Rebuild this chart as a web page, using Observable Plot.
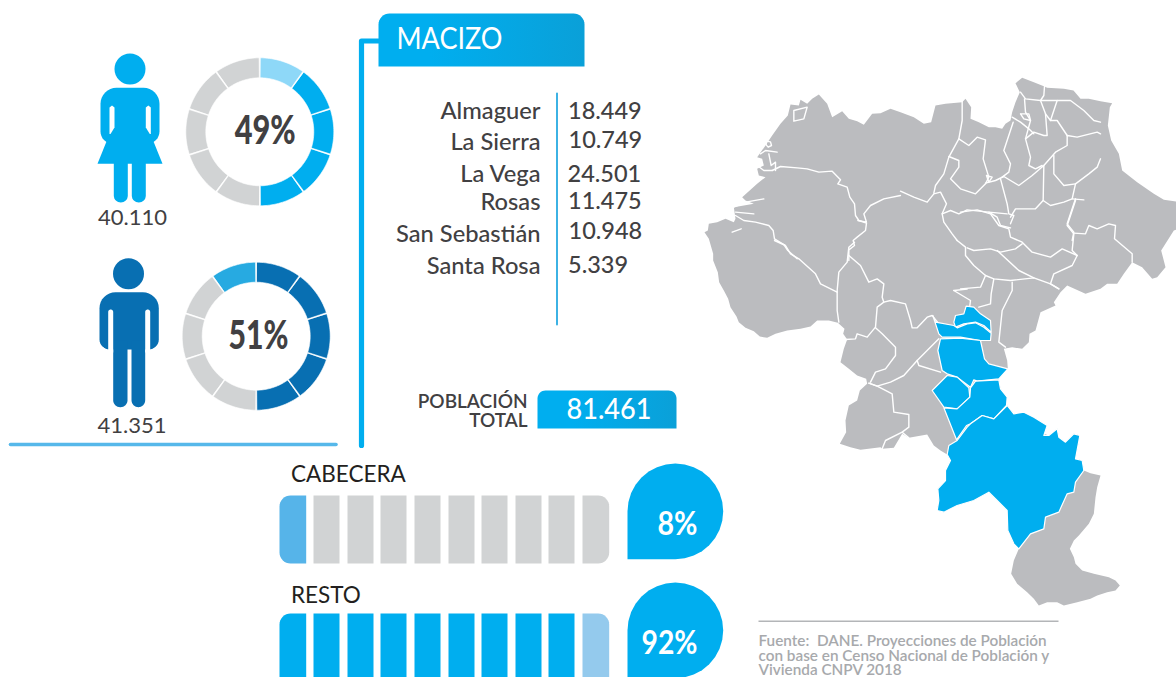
<!DOCTYPE html>
<html><head><meta charset="utf-8">
<script src="https://cdn.jsdelivr.net/npm/d3@7"></script>
<script src="https://cdn.jsdelivr.net/npm/@observablehq/plot@0.6"></script>
<style>html,body{margin:0;padding:0;background:#fff;overflow:hidden}svg{display:block}</style>
</head><body><div id="chart"></div>
<script>
// ---------- DATA ----------
const region = "MACIZO";
const municipalities = ["Almaguer","La Sierra","La Vega","Rosas","San Sebastián","Santa Rosa"];
const population = ["18.449","10.749","24.501","11.475","10.948","5.339"];
const totalPopulation = "81.461";
const womenCount = "40.110", menCount = "41.351";
const womenPct = "49%", menPct = "51%";
const womenSegments = [1,2,2,2,2,0,0,0,0,0];
const menSegments   = [2,2,2,2,2,0,0,0,0,1];
const cabeceraPct = "8%", restoPct = "92%";
const cabeceraCells = [1,0,0,0,0,0,0,0,0,0];
const restoCells    = [2,2,2,2,2,2,2,2,2,1];
const sourceLines = ["Fuente:  DANE. Proyecciones de Población","con base en Censo Nacional de Población y","Vivienda CNPV 2018"];

// map, in several tracing grids
const outlineR = [[38,60],[52,95],[56,125],[70,150],[83,175],[90,200],[108,228],[115,245],[135,262],[160,272],[178,288],[200,292],[225,280],[260,270],[300,265],[330,258],[350,240],[385,240],[412,247],[432,265],[428,280],[440,297],[430,325],[420,365],[445,385],[470,405],[497,415],[500,430],[478,450],[470,480],[445,495],[435,540],[437,575],[418,610],[450,620],[480,628],[540,620],[545,625],[580,622],[605,580],[625,592],[680,582],[700,615]];
const outlineB = [[420,480],[440,492],[450,510],[435,540],[435,570],[412,595],[415,630],[410,660],[430,665],[470,645],[520,630],[565,605],[590,630],[620,660],[620,690],[622,720],[640,760],[655,775],[640,810],[632,850],[650,880],[680,905],[700,925],[715,945],[740,935],[770,935],[790,945],[830,935],[870,925],[890,915],[920,905],[945,900],[958,885],[945,870],[925,860],[880,850],[845,840],[825,820],[820,800],[808,775],[820,750],[835,735],[865,700],[880,670],[885,620],[890,590],[900,555],[870,548],[850,540],[845,510],[825,505],[838,435],[820,430],[795,455],[775,440],[770,415],[745,435],[730,430],[740,405],[700,380],[670,365],[640,370],[620,345],[618,320],[600,295],[595,265],[622,235]];
const outlineS = [[140,570],[130,535],[155,530],[185,535],[205,515],[207,490],[225,480],[240,425],[285,405],[280,395],[300,365],[320,345],[375,370],[420,355],[440,340],[470,340],[490,310],[515,275],[545,290],[575,325],[590,320],[615,290],[602,240],[640,180],[660,172],[660,95],[610,88],[580,70],[530,35],[485,0]];
const outlineZ = [[1255,280],[1232,240],[1222,195],[1228,140],[1235,128],[1200,122],[1165,115],[1140,115]];
const outlineQ = [[519,60],[490,55],[440,52],[432,48],[400,35],[365,22],[345,38],[358,65],[345,95],[335,125],[330,150],[315,160],[305,175],[285,170],[265,170],[235,155],[210,145],[212,110],[195,85],[185,95],[135,100],[105,105],[92,155],[70,160],[40,140],[0,125]];
const outlineP = [[570,55],[540,68],[515,70],[490,103],[470,92],[445,85],[425,62],[395,80],[380,40],[355,12],[335,25],[320,40],[300,28],[295,45],[270,42],[262,75],[240,100],[215,135],[195,165],[170,200],[185,205],[190,225],[170,235],[175,255],[195,260],[170,280],[125,320],[135,330],[160,340],[130,345],[100,350],[105,385],[100,395],[75,385],[50,395],[25,400],[22,420],[12,425],[25,445],[38,490],[38,510]];

const bordersP = [
 [[215,240],[240,228],[290,232],[320,235],[355,245],[395,242],[420,268],[412,280],[440,290],[448,320],[462,340],[465,375],[475,390],[498,398],[495,420],[470,440],[458,450],[462,465],[445,478],[445,510]],
 [[105,375],[130,390],[165,395],[205,405],[218,420],[222,445],[250,462],[262,480],[290,505]],
 [[472,390],[498,395],[490,370],[510,345],[550,325],[600,315]],
 [[280,60],[320,50],[310,85],[280,92],[280,60]],
 [[197,152],[210,154],[213,165],[203,170],[197,163],[197,152]],
 [[180,190],[195,180],[230,185]],
 [[205,190],[212,225],[225,215],[225,240]],
 [[170,225],[190,240],[215,240]],
 [[100,350],[135,335],[190,325]],
 [[105,365],[160,370]],
 [[95,425],[122,415]]
];
const bordersQ = [
 [[0,362],[40,380],[80,395],[100,370],[120,365],[138,400],[125,430],[130,455],[155,490],[170,510]],
 [[100,368],[105,345],[130,310],[145,260],[175,205],[185,150],[185,90]],
 [[175,205],[205,225],[230,200],[255,208],[248,265],[265,320],[255,340],[225,370],[180,355],[150,325],[175,290],[175,270],[145,258]],
 [[255,338],[285,330],[310,318],[355,345],[395,315],[430,285],[465,245],[500,225],[500,195],[530,200],[590,185],[600,190]],
 [[500,195],[470,150],[450,150],[470,90],[510,90],[550,120],[580,150],[600,155]],
 [[300,325],[320,400],[325,430],[340,435],[330,460]],
 [[125,430],[150,420],[175,430],[200,418],[265,425],[320,430]],
 [[265,425],[290,440],[300,465],[330,472]],
 [[430,285],[428,390],[405,415],[345,415],[330,440]],
 [[428,390],[450,405],[490,395],[515,385],[525,340],[565,310],[590,290],[600,265]],
 [[515,385],[550,388]],
 [[525,385],[500,460],[520,485],[515,510]],
 [[460,255],[460,310],[490,345],[525,340]],
 [[338,155],[310,240],[330,280],[325,305],[305,320]],
 [[372,85],[375,125],[390,150],[375,205],[390,260],[385,285],[405,295],[425,285]],
 [[360,65],[375,85],[420,90],[435,130],[440,195],[430,195],[400,185],[375,205]],
 [[432,48],[430,75],[420,90],[470,90]],
 [[435,130],[450,150]],
 [[335,140],[360,155],[385,175],[400,190]],
 [[360,130],[385,130],[390,150],[370,145],[360,130]],
 [[258,315],[275,320],[265,335],[258,315]]
];
const bordersS = [
 [[0,125],[50,118],[90,130],[115,165],[145,175],[150,200],[185,215],[215,245],[270,260],[305,235],[350,255],[335,285],[280,310],[270,340],[295,355]],
 [[-10,210],[15,230],[15,255],[40,285],[75,315],[100,325],[150,330],[220,322],[270,340],[295,355]],
 [[20,232],[40,240],[90,235],[120,245],[165,235],[185,220]],
 [[110,240],[175,300],[220,322]],
 [[75,315],[60,350],[0,355]],
 [[100,325],[92,370],[90,400],[55,410]],
 [[155,335],[155,360],[125,420],[115,515],[135,530]],
 [[345,90],[320,165],[340,190],[335,240],[350,255]],
 [[340,188],[375,190],[385,165],[410,175],[445,160],[465,165],[462,205],[515,250],[515,275]]
];
const bordersZ = [[[760,690],[810,720],[808,735]],[[760,690],[800,686]]];
const bordersR = [
 [[222,0],[255,15],[270,40],[295,55],[345,100],[360,130],[410,155]],
 [[462,5],[445,20],[440,65],[415,95],[410,150],[410,210],[415,245]],
 [[445,45],[480,75],[505,125],[530,115],[550,130],[545,170],[550,185],[530,200],[525,260],[500,290],[470,280],[465,295],[435,297]],
 [[550,185],[570,180],[615,190],[630,240],[635,262],[650,262],[680,230],[695,225],[715,250]],
 [[525,262],[545,280],[585,320],[585,345],[555,385],[525,395],[510,425]],
 [[715,295],[650,360],[610,405],[570,425],[530,437],[505,428]],
 [[505,428],[530,437],[575,460],[580,515],[625,522],[625,560],[605,575],[555,600],[545,625]],
 [[650,360],[655,375],[720,395]],
 [[605,575],[625,592]]
];
const municipalityShapes = [
 [[497,47],[520,50],[540,70],[570,90],[572,125],[550,105],[525,95],[490,100],[465,110],[460,95],[465,75],[490,70]],
 [[397,75],[405,95],[460,105],[470,112],[500,100],[525,97],[550,110],[572,128],[570,150],[540,150],[480,140],[425,140],[415,130]],
 [[420,145],[480,143],[540,150],[552,205],[565,220],[622,235],[595,265],[530,272],[520,268],[510,290],[470,260],[440,250],[425,240],[412,180]],
 [[440,255],[470,260],[505,292],[508,320],[470,355],[430,350],[395,300]],
 [[510,292],[525,272],[595,268],[600,295],[620,320],[618,345],[580,385],[545,375],[510,400],[498,405],[468,448],[430,352],[470,355],[508,320]],
 [[620,345],[640,370],[670,365],[700,380],[740,405],[730,435],[745,435],[770,415],[775,440],[795,455],[820,430],[838,435],[825,505],[845,510],[850,540],[825,575],[820,605],[800,610],[775,665],[735,680],[730,715],[690,730],[655,775],[640,760],[622,720],[620,660],[590,630],[565,605],[520,630],[470,645],[430,665],[410,660],[415,630],[412,595],[435,570],[435,540],[450,510],[440,492],[445,465],[470,450],[500,410],[510,400],[545,375],[580,385]]
];

// ---------- LAYOUT ----------
const W = 1176, H = 677;
const font = "Lato, sans-serif";
const C = {cyan:"#00aeef", navy:"#086fb2", light:"#8ed8f8", sky:"#27aae1", grey:"#d1d3d4", map:"#bbbcbf", ink:"#414042", black:"#231f20", barLight:"#56b4e9", barPale:"#94caed", foot:"#a7a9ac", rule:"#56b8ea"};
const grid = (ox,oy) => p => p.map(([x,y]) => [ox + x/3, oy + y/3]);
const P = grid(700,90), Q = grid(900,70), R = grid(700,240), S = grid(960,170), B = grid(800,290), Z = grid(700,60);

let uid = 0;
const flat = (shapes) => shapes.flatMap(pts => { const id = uid++; return pts.map(([x,y]) => ({x,y,id})); });
const poly = (shapes, fill, o={}) => Plot.line(flat(shapes), {x:"x",y:"y",z:"id",fill,stroke:"none",curve:"linear-closed",...o});
const path = (shapes, stroke, strokeWidth, o={}) => Plot.line(flat(shapes), {x:"x",y:"y",z:"id",stroke,strokeWidth,fill:"none",curve:"linear",strokeLinecap:"round",strokeLinejoin:"round",...o});

function rr(x0,y0,x1,y1,r){
  const [tl,tr,br,bl] = Array.isArray(r)? r : [r,r,r,r];
  const arc = (cx,cy,rad,a0) => rad===0 ? [[cx,cy]] : d3.range(0,9).map(i => { const a=a0+i/8*Math.PI/2; return [cx+rad*Math.cos(a),cy+rad*Math.sin(a)]; });
  return [...arc(x0+tl,y0+tl,tl,Math.PI),...arc(x1-tr,y0+tr,tr,-Math.PI/2),...arc(x1-br,y1-br,br,0),...arc(x0+bl,y1-bl,bl,Math.PI/2)];
}
function wedge(cx,cy,r0,r1,a0,a1){
  const n=20, pts=[];
  for(let i=0;i<=n;i++){const a=a0+(a1-a0)*i/n; pts.push([cx+r1*Math.sin(a),cy-r1*Math.cos(a)]);}
  for(let i=n;i>=0;i--){const a=a0+(a1-a0)*i/n; pts.push([cx+r0*Math.sin(a),cy-r0*Math.cos(a)]);}
  return pts;
}
function ring(states,cx,cy,colors){
  const arcs = d3.pie().value(1).sort(null)(states);
  return arcs.map(d => poly([wedge(cx,cy,54,74,d.startAngle+0.009,d.endAngle-0.009)], colors[d.data], {stroke:"white",strokeWidth:0.6}));
}
function cells(states,y0,y1,colors){
  const xs = [[279,305.7],[313,339],[347,373],[380,406],[414,440],[448,474],[481,507],[515,541],[548,574],[582,608.7]];
  return states.map((s,i)=> poly([rr(xs[i][0],y0,xs[i][1],y1, i===0?[11,0,0,11]: i===9?[0,11,11,0]:0)], colors[s]));
}
const drop = (x0,y0,x1,y1) => rr(x0,y0,x1,y1,[47.8,47.8,47.8,0]);

const woman = () => [
  poly([rr(100,87.3,159,143,[16,16,12,12]),
        [[106,141],[97,163.3],[162,163.3],[153,141]],
        rr(113.3,158,127.3,202,[0,0,7,7]), rr(131.3,158,145.3,202,[0,0,7,7])], C.cyan),
  poly([[[109,107],[111.5,105],[114,107],[114,127],[110,133.5],[109,133.5]],
        [[145.3,107],[147.8,105],[150.3,107],[150.3,133.5],[149.3,133.5],[145.3,127]]], "white"),
  Plot.dot([{x:129.5,y:68.5}], {x:"x",y:"y",r:15.5,fill:C.cyan})
];
const man = () => [
  poly([rr(99,291.7,158.3,349,[16,16,10,10]),
        rr(112.7,340,127,406.7,[0,0,7,7]), rr(131,340,144.7,406.7,[0,0,7,7])], C.navy),
  poly([rr(107.7,309,112.7,352,[2.5,2.5,0,0]), rr(144.7,309,149.7,352,[2.5,2.5,0,0])], "white"),
  poly([[[99,344],[107.7,350.5],[107.7,352],[99,352]],[[158.3,344],[149.7,350.5],[149.7,352],[158.3,352]]], "white"),
  Plot.dot([{x:128,y:273.3}], {x:"x",y:"y",r:15.5,fill:C.navy})
];

const label = (txt,x,y,o={}) => Plot.text([txt], {x:()=>x,y:()=>y,text:d=>d,fontFamily:font,fill:C.ink,...o});

const gradient = () => {
  const defs = d3.create("svg:defs");
  for (const id of ["headGrad","totalGrad"]) {
    const g = defs.append("linearGradient").attr("id",id).attr("x1","0").attr("x2","1").attr("y1","0").attr("y2","0");
    g.append("stop").attr("offset","25%").attr("stop-color",C.cyan);
    g.append("stop").attr("offset","100%").attr("stop-color","#0aa0d8");
  }
  return defs.node();
};

const chart = Plot.plot({
  width:W, height:H, margin:0,
  x:{domain:[0,W],range:[0,W],axis:null},
  y:{domain:[0,H],range:[0,H],axis:null},
  style:{background:"#fff",fontFamily:font},
  marks:[
    gradient,
    // map
    poly([[...R(outlineR),...B(outlineB),...S(outlineS),...Z(outlineZ),...Q(outlineQ),...P(outlineP)]], C.map),
    path([...bordersP.map(P),...bordersQ.map(Q),...bordersS.map(S),...bordersZ.map(Z),...bordersR.map(R)], "white", 1.4),
    poly(municipalityShapes.map(B), C.cyan, {stroke:"white",strokeWidth:1.2,strokeLinejoin:"round"}),
    // people
    ...woman(), ...man(),
    ...ring(womenSegments,259.3,131.3,[C.grey,C.light,C.cyan]),
    ...ring(menSegments,255.7,335.7,[C.grey,C.sky,C.navy]),
    label(womenPct,264.7,130.5,{fontSize:40,fontWeight:900}),
    label(menPct,258,336,{fontSize:40,fontWeight:900}),
    label(womenCount,132,217.5,{fontSize:22}),
    label(menCount,131.5,425.5,{fontSize:22}),
    // frame lines
    path([[[10,444],[335.5,444]]], C.rule, 3.6),
    path([[[378,40.5],[361,40.5],[361,445]]], C.cyan, 5.2),
    path([[[556.5,93],[556.5,324]]], C.sky, 1.8),
    // header
    poly([rr(378,13,584,66,[11,11,0,0])], "url(#headGrad)"),
    label(region,449,39,{fontSize:30,fill:"white",fontWeight:400}),
    // table
    Plot.text(municipalities,{x:()=>540,y:(d,i)=>[110.5,141.5,174,202,233.5,265.5][i],text:d=>d,textAnchor:"end",fontFamily:font,fontSize:23.7,fontWeight:500,fill:C.ink}),
    Plot.text(population,{x:(d,i)=>[567.5,568,567,567.5,568,567.5][i],y:(d,i)=>[110.5,140,174,201,231,265][i],text:d=>d,textAnchor:"start",fontFamily:font,fontSize:23.5,fontWeight:500,fill:C.ink}),
    // total
    label("POBLACIÓN",527,401,{textAnchor:"end",fontSize:19,fontWeight:600}),
    label("TOTAL",527,420.5,{textAnchor:"end",fontSize:19,fontWeight:600}),
    poly([rr(537,390,676,428,[8,8,0,0])], "url(#totalGrad)"),
    label(totalPopulation,608.5,409,{fontSize:29,fill:"white",fontWeight:500}),
    // bars
    label("CABECERA",290.5,474.5,{textAnchor:"start",fontSize:22.5,fill:C.black}),
    ...cells(cabeceraCells,495,563,[C.grey,C.barLight]),
    label("RESTO",290.5,595,{textAnchor:"start",fontSize:22.5,fill:C.black}),
    ...cells(restoCells,613,690,[C.grey,C.barPale,C.cyan]),
    poly([drop(627,463,722.7,558.7)], C.cyan),
    label(cabeceraPct,697,524,{textAnchor:"end",fontSize:32,fontWeight:700,fill:"white"}),
    poly([drop(627,582,722.7,677.7)], C.cyan),
    label(restoPct,697,643.5,{textAnchor:"end",fontSize:32,fontWeight:700,fill:"white"}),
    // source
    path([[[758,620.8],[1058,620.8]]], "#b3b5b8", 1.4, {strokeLinecap:"butt"}),
    Plot.text(sourceLines,{x:()=>758,y:(d,i)=>[641,655.3,670][i],text:d=>d,textAnchor:"start",fontFamily:font,fontSize:15.3,fontWeight:600,fill:C.foot})
  ]
});
// condensed text widths
const targetWidths = new Map([[womenPct,61],[menPct,60],[cabeceraPct,40],[restoPct,56],[region,106],[totalPopulation,85]]);
d3.select(chart).selectAll("text").each(function(){
  const w = targetWidths.get(this.textContent);
  if (w) { this.setAttribute("textLength",w); this.setAttribute("lengthAdjust","spacingAndGlyphs"); }
});
document.getElementById("chart").append(chart);
</script></body></html>
